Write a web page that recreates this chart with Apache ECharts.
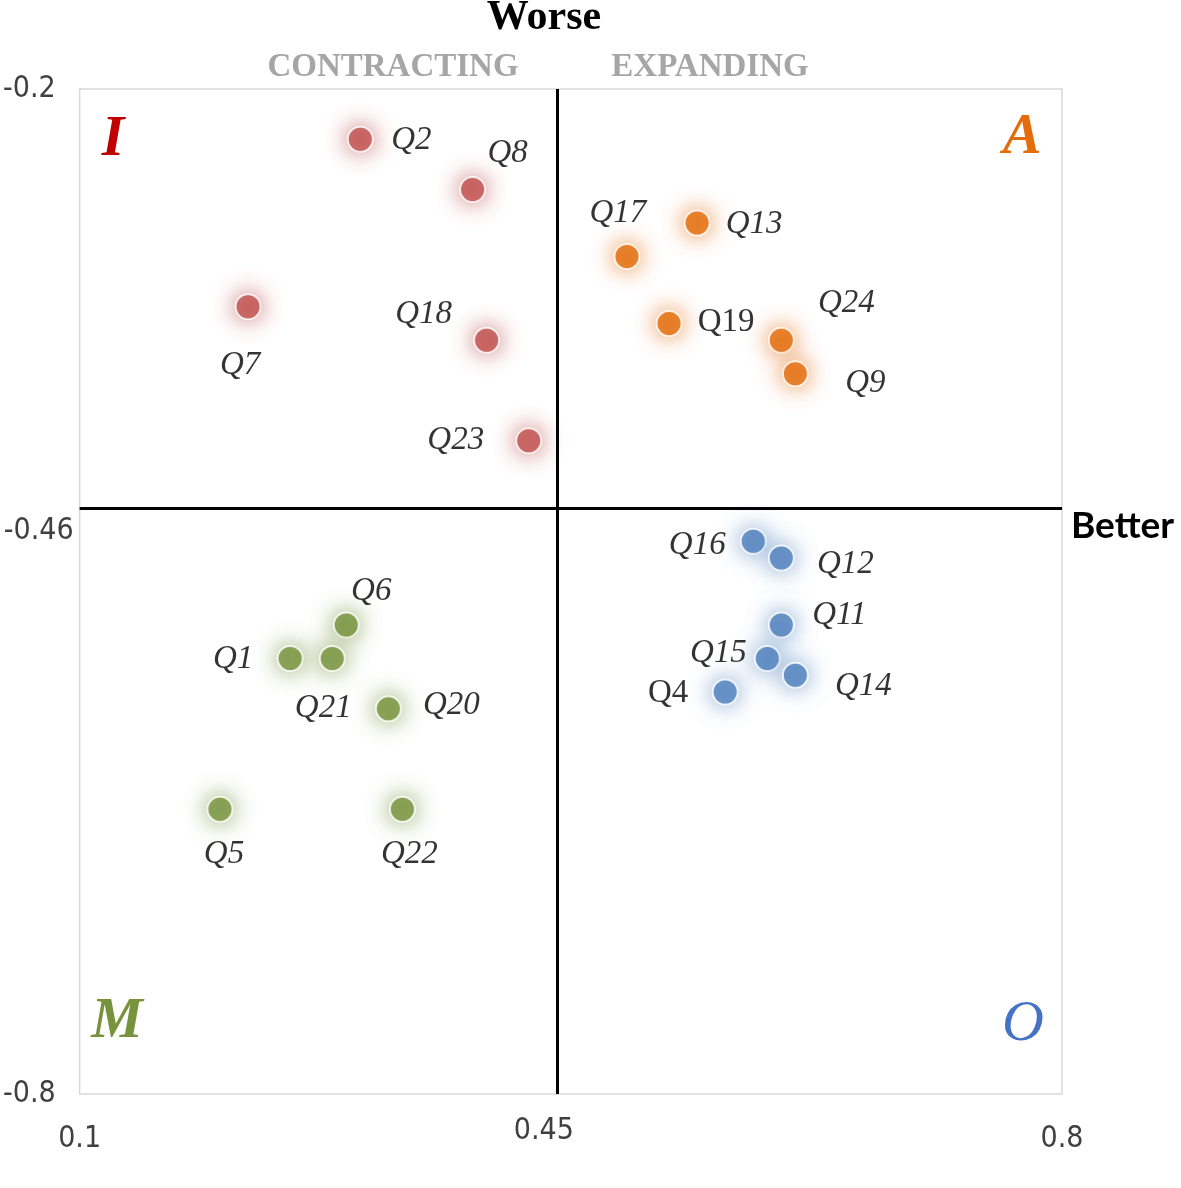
<!DOCTYPE html>
<html>
<head>
<meta charset="utf-8">
<script src="https://cdn.jsdelivr.net/npm/echarts@6/dist/echarts.min.js"></script>
<style>
  html, body { margin: 0; padding: 0; background: #fff; }
  #chart { width: 1181px; height: 1188px; }
</style>
</head>
<body>
<div id="chart"></div>
<script>
// quadrant I (contracting, worse)
const redNames = ['Q2', 'Q8', 'Q7', 'Q18', 'Q23'];
const redX = [0.30, 0.38, 0.22, 0.39, 0.42];
const redY = [-0.23, -0.26, -0.33, -0.35, -0.41];

// quadrant A
const orangeNames = ['Q13', 'Q17', 'Q19', 'Q24', 'Q9'];
const orangeX = [0.54, 0.49, 0.52, 0.60, 0.61];
const orangeY = [-0.28, -0.30, -0.34, -0.35, -0.37];

// quadrant O
const blueNames = ['Q16', 'Q12', 'Q11', 'Q15', 'Q14', 'Q4'];
const blueX = [0.58, 0.60, 0.60, 0.59, 0.61, 0.56];
const blueY = [-0.47, -0.48, -0.52, -0.54, -0.55, -0.56];

// quadrant M
const greenNames = ['Q6', 'Q1', 'Q21', 'Q20', 'Q5', 'Q22'];
const greenX = [0.29, 0.25, 0.28, 0.32, 0.20, 0.33];
const greenY = [-0.52, -0.54, -0.54, -0.57, -0.63, -0.63];

// axis ends and the two dividing lines
const xTicks = [0.1, 0.8];
const yTicks = [-0.8, -0.2];
const xSplit = 0.436;
const ySplit = -0.45;
const xSplitLabel = '0.45';
const ySplitLabel = '-0.46';

// where each point's name sits, relative to the dot (px)
const labelOffset = {
    Q2: [51, 1], Q8: [35, -36], Q7: [-8, 59], Q18: [-63, -26], Q23: [-73, 0],
    Q13: [57, 1], Q17: [-9, -43], Q19: [57, -1], Q24: [65, -37], Q9: [70, 10],
    Q16: [-56, 4], Q12: [64, 6], Q11: [58, -10], Q15: [-49, -5], Q14: [68, 11], Q4: [-57, 1],
    Q6: [25, -34], Q1: [-57, 1], Q21: [-9, 50], Q20: [63, -3], Q5: [4, 45], Q22: [7, 45]
};
const uprightLabels = ['Q19', 'Q4'];

const chart = echarts.init(document.getElementById('chart'));

const near = (a, b) => Math.abs(a - b) < 1e-6;

const buildData = (names, xs, ys) => names.map((name, i) => ({
    name: name,
    value: [xs[i], ys[i]],
    label: {
        offset: labelOffset[name],
        fontStyle: uprightLabels.includes(name) ? 'normal' : 'italic'
    }
}));

const makeSeries = (name, color, glow, data) => ({
    name: name,
    type: 'scatter',
    symbolSize: 25,
    itemStyle: {
        color: color,
        borderColor: '#fff',
        borderWidth: 2,
        shadowBlur: 22,
        shadowColor: glow
    },
    label: {
        show: true,
        position: 'inside',
        formatter: '{b}',
        fontFamily: '"Liberation Serif", serif',
        fontSize: 33,
        color: '#000'
    },
    emphasis: { disabled: true },
    data: data
});

const quadLetter = (text, x, y, color, weight) => ({
    type: 'text',
    x: x,
    y: y,
    style: {
        text: text,
        align: 'center',
        verticalAlign: 'middle',
        font: 'italic ' + weight + ' 58px "Liberation Serif", serif',
        fill: color
    }
});

const series = [
    makeSeries('I', '#c0504d', 'rgba(192,80,77,0.95)', buildData(redNames, redX, redY)),
    makeSeries('A', '#e46c0a', 'rgba(228,108,10,0.9)', buildData(orangeNames, orangeX, orangeY)),
    makeSeries('O', '#4f81bd', 'rgba(79,129,189,0.85)', buildData(blueNames, blueX, blueY)),
    makeSeries('M', '#77933c', 'rgba(119,147,60,0.95)', buildData(greenNames, greenX, greenY))
];

const tickFont = '"Liberation Sans Narrow", "DejaVu Sans Condensed", sans-serif';

// dividing cross
series[0].markLine = {
    silent: true,
    symbol: 'none',
    animation: false,
    lineStyle: { color: '#000', width: 3, type: 'solid' },
    data: [
        {
            xAxis: xSplit,
            label: {
                show: true, position: 'start', formatter: xSplitLabel,
                distance: 22, offset: [-13, 0],
                fontFamily: tickFont, fontSize: 30, color: '#404040'
            }
        },
        {
            yAxis: ySplit,
            label: {
                show: true, position: 'start', formatter: ySplitLabel,
                distance: 6, offset: [0, 23],
                fontFamily: tickFont, fontSize: 30, color: '#404040'
            }
        }
    ]
};

option = {
    animation: false,
    backgroundColor: '#fff',
    grid: {
        left: 79,
        right: 119,
        top: 89,
        bottom: 94,
        show: true,
        borderColor: '#d9d9d9',
        borderWidth: 1.5
    },
    xAxis: {
        type: 'value',
        min: 0.1,
        max: 0.8,
        interval: 0.05,
        axisLine: { show: false },
        axisTick: { show: false },
        splitLine: { show: false },
        axisLabel: {
            margin: 30,
            fontFamily: tickFont,
            fontSize: 30,
            color: '#404040',
            showMinLabel: true,
            showMaxLabel: true,
            formatter: v => xTicks.some(t => near(t, v)) ? String(xTicks.find(t => near(t, v))) : ''
        }
    },
    yAxis: {
        type: 'value',
        min: -0.8,
        max: -0.2,
        interval: 0.05,
        axisLine: { show: false },
        axisTick: { show: false },
        splitLine: { show: false },
        axisLabel: {
            margin: 24,
            fontFamily: tickFont,
            fontSize: 30,
            color: '#404040',
            showMinLabel: true,
            showMaxLabel: true,
            formatter: v => yTicks.some(t => near(t, v)) ? String(yTicks.find(t => near(t, v))) : ''
        }
    },
    graphic: [
        {
            type: 'text', x: 544, y: 18,
            style: {
                text: 'Worse', align: 'center', verticalAlign: 'middle',
                font: 'bold 42px "Liberation Serif", serif', fill: '#000'
            }
        },
        {
            type: 'text', x: 1071, y: 526,
            style: {
                text: 'Better', align: 'left', verticalAlign: 'middle',
                font: 'bold 37px Lato, "Open Sans", sans-serif', fill: '#000'
            }
        },
        {
            type: 'text', x: 393, y: 67,
            style: {
                text: 'CONTRACTING', align: 'center', verticalAlign: 'middle',
                font: 'bold 33px "Liberation Serif", serif', fill: '#a6a6a6'
            }
        },
        {
            type: 'text', x: 710, y: 67,
            style: {
                text: 'EXPANDING', align: 'center', verticalAlign: 'middle',
                font: 'bold 33px "Liberation Serif", serif', fill: '#a6a6a6'
            }
        },
        quadLetter('I', 113, 140, '#c00000', 'bold'),
        quadLetter('A', 1022, 138, '#e46c0a', 'bold'),
        quadLetter('M', 117, 1022, '#77933c', 'bold'),
        quadLetter('O', 1023, 1025, '#4472c4', 'normal')
    ],
    series: series
};

chart.setOption(option);
</script>
</body>
</html>
